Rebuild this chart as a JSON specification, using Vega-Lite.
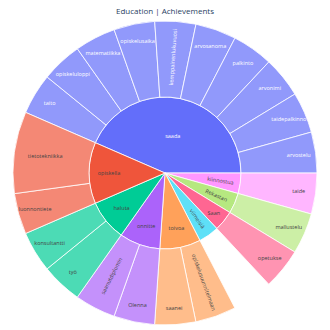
{
  "$schema": "https://vega.github.io/schema/vega-lite/v6.json",
  "width": 330,
  "height": 306,
  "autosize": "none",
  "padding": {"top": 20, "left": 0, "right": 0, "bottom": 4},
  "title": {"text": "Education | Achievements", "fontSize": 8, "font": "Open Sans", "fontWeight": "normal", "color": "#2a3f5f", "offset": 3},
  "config": {"view": {"stroke": null}, "text": {"font": "Open Sans", "fontSize": 5.5}},
  "data": {"values": [
    {"i": 1, "parent": "saada", "child": "taito", "value": 1},
    {"i": 2, "parent": "saada", "child": "opiskeluloppi", "value": 1},
    {"i": 3, "parent": "saada", "child": "matematiikka", "value": 1},
    {"i": 4, "parent": "saada", "child": "opiskelusaika", "value": 1},
    {"i": 5, "parent": "saada", "child": "kemppainenlukuvuosi", "value": 1},
    {"i": 6, "parent": "saada", "child": "arvosanoma", "value": 1},
    {"i": 7, "parent": "saada", "child": "palkinto", "value": 1},
    {"i": 8, "parent": "saada", "child": "arvonimi", "value": 1},
    {"i": 9, "parent": "saada", "child": "taidepalkinno", "value": 1},
    {"i": 10, "parent": "saada", "child": "arvostelu", "value": 1},
    {"i": 11, "parent": "kiinnostua", "child": "taide", "value": 1},
    {"i": 12, "parent": "Rekastan", "child": "mallustelu", "value": 1},
    {"i": 13, "parent": "Saan", "child": "opetukse", "value": 1},
    {"i": 14, "parent": "viimeisiä", "child": null, "value": 1},
    {"i": 15, "parent": "toivoa", "child": "opiskelusuunnitelmaan", "value": 1},
    {"i": 16, "parent": "toivoa", "child": "saanei", "value": 1},
    {"i": 17, "parent": "onnitte", "child": "Olenna", "value": 1},
    {"i": 18, "parent": "onnitte", "child": "saanutdiplomin", "value": 1},
    {"i": 19, "parent": "haluta", "child": "työ", "value": 1},
    {"i": 20, "parent": "haluta", "child": "konsultantti", "value": 1},
    {"i": 21, "parent": "opiskella", "child": "luonnontiete", "value": 1},
    {"i": 22, "parent": "opiskella", "child": "tietotekniikka", "value": 2}
  ]},
  "layer": [
    {
      "transform": [
        {"aggregate": [{"op": "sum", "field": "value", "as": "value"}, {"op": "min", "field": "i", "as": "i"}], "groupby": ["parent"]}
      ],
      "encoding": {
        "theta": {"field": "value", "type": "quantitative", "stack": true, "scale": {"range": [-1.1606, 5.1226]}},
        "order": {"field": "i", "type": "quantitative"}
      },
      "layer": [
        {
          "mark": {"type": "arc", "outerRadius": 76, "innerRadius": 0, "stroke": "white", "strokeWidth": 0.8},
          "encoding": {
            "color": {"field": "parent", "type": "nominal", "legend": null,
              "scale": {"domain": ["saada", "opiskella", "haluta", "onnitte", "toivoa", "viimeisiä", "Saan", "Rekastan", "kiinnostua"],
                        "range": ["#636EFA", "#EF553B", "#00CC96", "#AB63FA", "#FFA15A", "#19D3F3", "#FF6692", "#B6E880", "#FF97FF"]}},
            "fillOpacity": {"condition": {"test": "datum.parent === 'viimeisiä'", "value": 0.7}, "value": 1}
          }
        },
        {
          "mark": {"type": "text", "radius": 38, "fill": "white"},
          "encoding": {
            "text": {"condition": {"test": "datum.parent === 'saada'", "field": "parent"}, "value": ""}
          }
        },
        {
          "mark": {"type": "text", "radius": 56, "fill": "#444"},
          "encoding": {
            "text": {"condition": {"test": "datum.parent !== 'saada' && datum.parent !== 'Saan'", "field": "parent"}, "value": ""},
            "angle": {"condition": [
              {"test": "datum.parent === 'viimeisiä'", "value": 55},
              {"test": "datum.parent === 'Rekastan'", "value": 24},
              {"test": "datum.parent === 'kiinnostua'", "value": 9}
            ], "value": 0}
          }
        },
        {
          "mark": {"type": "text", "radius": 63, "fill": "#444"},
          "encoding": {
            "text": {"condition": {"test": "datum.parent === 'Saan'", "field": "parent"}, "value": ""}
          }
        }
      ]
    },
    {
      "encoding": {
        "theta": {"field": "value", "type": "quantitative", "stack": true, "scale": {"range": [-1.1606, 5.1226]}},
        "order": {"field": "i", "type": "quantitative"}
      },
      "layer": [
        {
          "mark": {"type": "arc", "outerRadius": 152, "innerRadius": 76, "stroke": "white", "strokeWidth": 0.8},
          "encoding": {
            "color": {"field": "parent", "type": "nominal", "legend": null},
            "fillOpacity": {"condition": {"test": "datum.child === null", "value": 0}, "value": 0.7},
            "strokeOpacity": {"condition": {"test": "datum.child === null", "value": 0}, "value": 1}
          }
        },
        {
          "mark": {"type": "text", "radius": 135},
          "encoding": {
            "text": {"condition": {"test": "datum.child !== null && indexof(['kemppainenlukuvuosi','saanutdiplomin','opiskelusuunnitelmaan','tietotekniikka'], datum.child) < 0", "field": "child"}, "value": ""},
            "fill": {"condition": {"test": "datum.parent === 'saada'", "value": "white"}, "value": "#444"}
          }
        },
        {
          "mark": {"type": "text", "radius": 116},
          "encoding": {
            "text": {"condition": {"test": "indexof(['kemppainenlukuvuosi','saanutdiplomin','opiskelusuunnitelmaan'], datum.child) >= 0", "field": "child"}, "value": ""},
            "fill": {"condition": {"test": "datum.parent === 'saada'", "value": "white"}, "value": "#444"},
            "angle": {"condition": [
              {"test": "datum.child === 'kemppainenlukuvuosi'", "value": -86},
              {"test": "datum.child === 'saanutdiplomin'", "value": -63},
              {"test": "datum.child === 'opiskelusuunnitelmaan'", "value": 70}
            ], "value": 0}
          }
        },
        {
          "mark": {"type": "text", "radius": 121, "fill": "#444"},
          "encoding": {
            "text": {"condition": {"test": "datum.child === 'tietotekniikka'", "field": "child"}, "value": ""}
          }
        }
      ]
    }
  ]
}
